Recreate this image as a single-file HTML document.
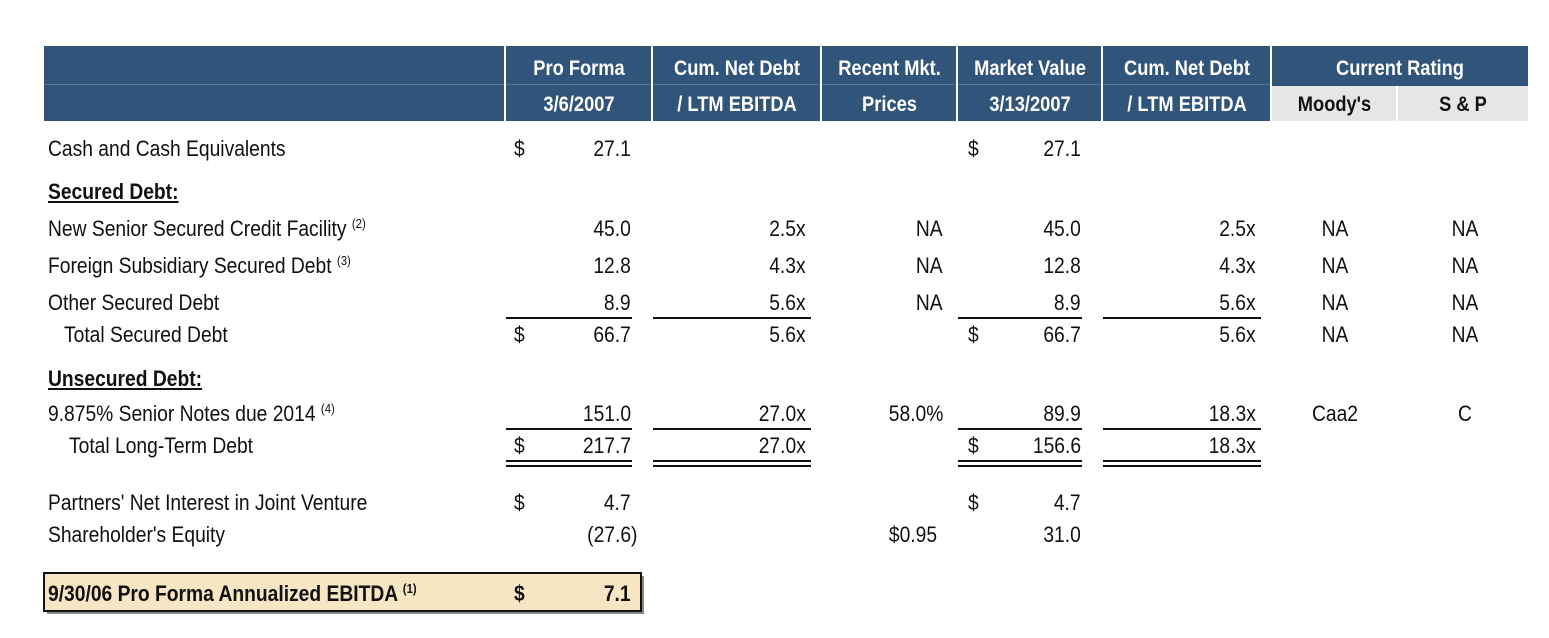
<!DOCTYPE html>
<html><head><style>
body{margin:0;width:1549px;height:638px;background:#fff;position:relative;overflow:hidden;font-family:"Liberation Sans",Arial,sans-serif;font-size:22px;color:#111}
div{position:absolute;white-space:nowrap}
.t{line-height:24px;transform:scaleX(.875)}
.l{transform-origin:left center}
.r{transform-origin:right center}
.c{text-align:center;transform-origin:center center}
.h{color:#fff;font-weight:bold;line-height:24px;text-align:center;font-size:21.5px;transform:scaleX(.85)}
.k{color:#111}
.ln{height:2px;background:#111}
.vs{width:2px;background:#fff;top:46px;height:75px}
sup{font-size:13px;line-height:0;vertical-align:8px}
</style></head><body>
<div style="left:44px;top:46px;width:1484px;height:75px;background:#31547A"></div>
<div style="left:44px;top:84px;width:1227px;height:1px;background:#5C7899"></div>
<div style="left:1271px;top:86px;width:257px;height:35px;background:#E6E6E6"></div>
<div style="left:1396px;top:86px;width:2px;height:35px;background:#fff"></div>
<div class="vs" style="left:504px"></div>
<div class="vs" style="left:651px"></div>
<div class="vs" style="left:820px"></div>
<div class="vs" style="left:956px"></div>
<div class="vs" style="left:1101px"></div>
<div class="vs" style="left:1270px"></div>

<div class="h" style="left:506px;width:146px;top:56px">Pro Forma</div>
<div class="h" style="left:506px;width:146px;top:92px">3/6/2007</div>
<div class="h" style="left:653px;width:168px;top:56px">Cum. Net Debt</div>
<div class="h" style="left:653px;width:168px;top:92px">/ LTM EBITDA</div>
<div class="h" style="left:822px;width:135px;top:56px">Recent Mkt.</div>
<div class="h" style="left:822px;width:135px;top:92px">Prices</div>
<div class="h" style="left:958px;width:144px;top:56px">Market Value</div>
<div class="h" style="left:958px;width:144px;top:92px">3/13/2007</div>
<div class="h" style="left:1103px;width:168px;top:56px">Cum. Net Debt</div>
<div class="h" style="left:1103px;width:168px;top:92px">/ LTM EBITDA</div>
<div class="h" style="left:1272px;width:256px;top:56px">Current Rating</div>
<div class="h k" style="left:1272px;width:125px;top:92px">Moody's</div>
<div class="h k" style="left:1398px;width:130px;top:92px">S &amp; P</div>

<div class="t l" style="left:48px;top:137px">Cash and Cash Equivalents</div>
<div class="t l" style="left:48px;top:180px;font-weight:bold;text-decoration:underline">Secured Debt:</div>
<div class="t l" style="left:48px;top:217px">New Senior Secured Credit Facility <sup>(2)</sup></div>
<div class="t l" style="left:48px;top:254px">Foreign Subsidiary Secured Debt <sup>(3)</sup></div>
<div class="t l" style="left:48px;top:291px">Other Secured Debt</div>
<div class="t l" style="left:64px;top:323px">Total Secured Debt</div>
<div class="t l" style="left:48px;top:367px;font-weight:bold;text-decoration:underline">Unsecured Debt:</div>
<div class="t l" style="left:48px;top:402px">9.875% Senior Notes due 2014 <sup>(4)</sup></div>
<div class="t l" style="left:69px;top:434px">Total Long-Term Debt</div>
<div class="t l" style="left:48px;top:491px">Partners' Net Interest in Joint Venture</div>
<div class="t l" style="left:48px;top:523px">Shareholder's Equity</div>

<div class="t l" style="left:514px;top:137px">$</div>
<div class="t l" style="left:968px;top:137px">$</div>
<div class="t l" style="left:514px;top:323px">$</div>
<div class="t l" style="left:968px;top:323px">$</div>
<div class="t l" style="left:514px;top:434px">$</div>
<div class="t l" style="left:968px;top:434px">$</div>
<div class="t l" style="left:514px;top:491px">$</div>
<div class="t l" style="left:968px;top:491px">$</div>

<div class="t r" style="right:918px;top:137px">27.1</div>
<div class="t r" style="right:918px;top:217px">45.0</div>
<div class="t r" style="right:918px;top:254px">12.8</div>
<div class="t r" style="right:918px;top:291px">8.9</div>
<div class="t r" style="right:918px;top:323px">66.7</div>
<div class="t r" style="right:918px;top:402px">151.0</div>
<div class="t r" style="right:918px;top:434px">217.7</div>
<div class="t r" style="right:918px;top:491px">4.7</div>
<div class="t r" style="right:912px;top:523px">(27.6)</div>

<div class="t r" style="right:743px;top:217px">2.5x</div>
<div class="t r" style="right:743px;top:254px">4.3x</div>
<div class="t r" style="right:743px;top:291px">5.6x</div>
<div class="t r" style="right:743px;top:323px">5.6x</div>
<div class="t r" style="right:743px;top:402px">27.0x</div>
<div class="t r" style="right:743px;top:434px">27.0x</div>

<div class="t r" style="right:606px;top:217px">NA</div>
<div class="t r" style="right:606px;top:254px">NA</div>
<div class="t r" style="right:606px;top:291px">NA</div>
<div class="t r" style="right:606px;top:402px">58.0%</div>
<div class="t r" style="right:612px;top:523px">$0.95</div>

<div class="t r" style="right:468px;top:137px">27.1</div>
<div class="t r" style="right:468px;top:217px">45.0</div>
<div class="t r" style="right:468px;top:254px">12.8</div>
<div class="t r" style="right:468px;top:291px">8.9</div>
<div class="t r" style="right:468px;top:323px">66.7</div>
<div class="t r" style="right:468px;top:402px">89.9</div>
<div class="t r" style="right:468px;top:434px">156.6</div>
<div class="t r" style="right:468px;top:491px">4.7</div>
<div class="t r" style="right:468px;top:523px">31.0</div>

<div class="t r" style="right:293px;top:217px">2.5x</div>
<div class="t r" style="right:293px;top:254px">4.3x</div>
<div class="t r" style="right:293px;top:291px">5.6x</div>
<div class="t r" style="right:293px;top:323px">5.6x</div>
<div class="t r" style="right:293px;top:402px">18.3x</div>
<div class="t r" style="right:293px;top:434px">18.3x</div>

<div class="t c" style="left:1285px;width:100px;top:217px">NA</div>
<div class="t c" style="left:1285px;width:100px;top:254px">NA</div>
<div class="t c" style="left:1285px;width:100px;top:291px">NA</div>
<div class="t c" style="left:1285px;width:100px;top:323px">NA</div>
<div class="t c" style="left:1285px;width:100px;top:402px">Caa2</div>
<div class="t c" style="left:1415px;width:100px;top:217px">NA</div>
<div class="t c" style="left:1415px;width:100px;top:254px">NA</div>
<div class="t c" style="left:1415px;width:100px;top:291px">NA</div>
<div class="t c" style="left:1415px;width:100px;top:323px">NA</div>
<div class="t c" style="left:1415px;width:100px;top:402px">C</div>

<div class="ln" style="left:506px;width:126px;top:317px"></div>
<div class="ln" style="left:653px;width:158px;top:317px"></div>
<div class="ln" style="left:958px;width:124px;top:317px"></div>
<div class="ln" style="left:1103px;width:158px;top:317px"></div>

<div class="ln" style="left:506px;width:126px;top:428px"></div>
<div class="ln" style="left:653px;width:158px;top:428px"></div>
<div class="ln" style="left:958px;width:124px;top:428px"></div>
<div class="ln" style="left:1103px;width:158px;top:428px"></div>

<div class="ln" style="left:506px;width:126px;top:460px"></div>
<div class="ln" style="left:653px;width:158px;top:460px"></div>
<div class="ln" style="left:958px;width:124px;top:460px"></div>
<div class="ln" style="left:1103px;width:158px;top:460px"></div>
<div class="ln" style="left:506px;width:126px;top:465px"></div>
<div class="ln" style="left:653px;width:158px;top:465px"></div>
<div class="ln" style="left:958px;width:124px;top:465px"></div>
<div class="ln" style="left:1103px;width:158px;top:465px"></div>

<div style="left:47px;top:576px;width:597px;height:38px;background:#888"></div>
<div style="left:43px;top:572px;width:595px;height:36px;background:#F7E6C4;border:2px solid #111"></div>
<div class="t l" style="left:48px;top:582px;font-weight:bold">9/30/06 Pro Forma Annualized EBITDA <sup>(1)</sup></div>
<div class="t l" style="left:514px;top:582px;font-weight:bold">$</div>
<div class="t r" style="right:918px;top:582px;font-weight:bold">7.1</div>
</body></html>
